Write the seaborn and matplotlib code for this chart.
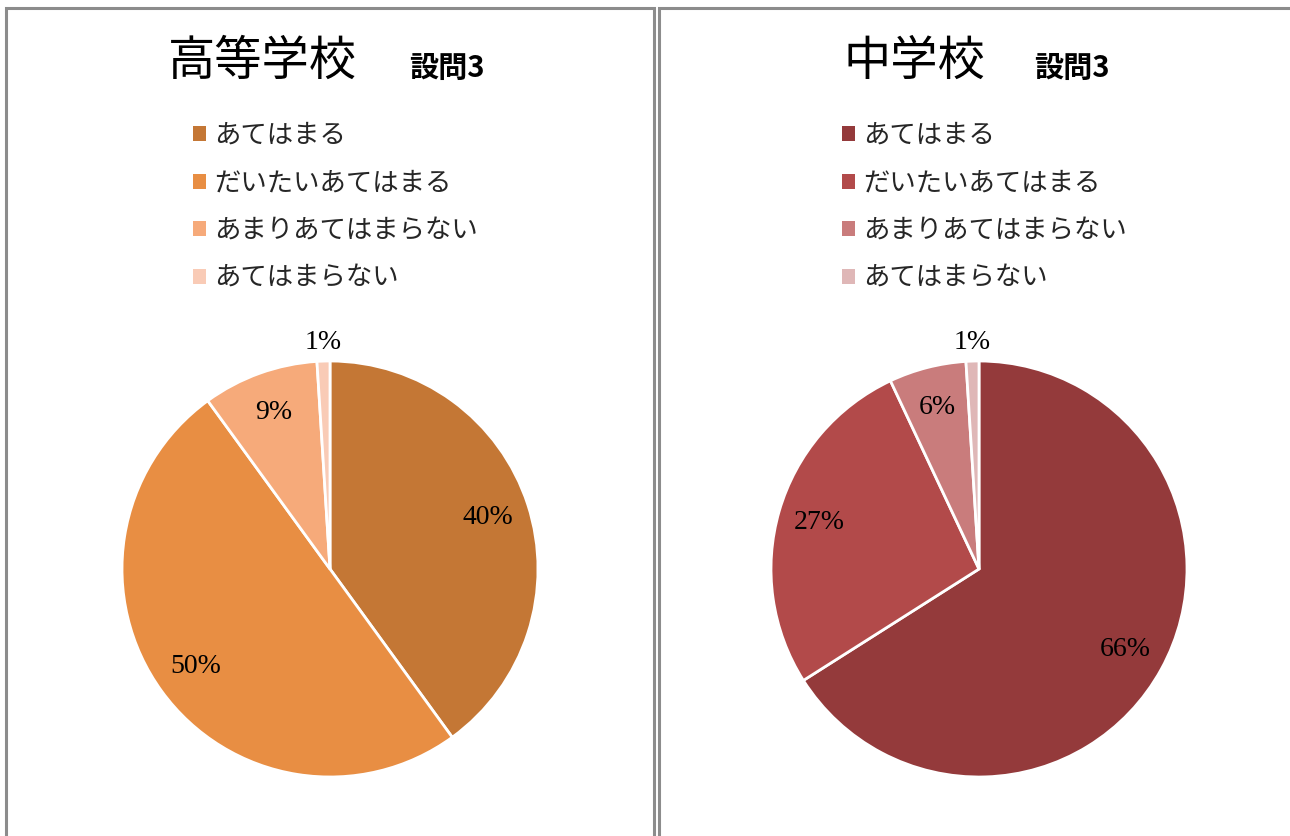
import numpy as np
import matplotlib
matplotlib.use("Agg")
import matplotlib.pyplot as plt
from matplotlib.patches import Rectangle
import seaborn as sns

# --- data
categories = ["あてはまる", "だいたいあてはまる", "あまりあてはまらない", "あてはまらない"]
high_school = [40, 50, 9, 1]
middle_school = [66, 27, 6, 1]
titles = ["高等学校", "中学校"]
subtitle = "設問3"

high_colors = ["#C47735", "#E88E43", "#F6AA7A", "#F9CBB6"]
middle_colors = ["#943A3B", "#B24A4A", "#C97C7C", "#DFB7B7"]

sns.set_theme(style="white")
plt.rcParams['font.family'] = ['Noto Sans CJK JP', 'DejaVu Sans']

W, H = 1290, 836
fig = plt.figure(figsize=(W / 100, H / 100), dpi=100)
fig.patch.set_facecolor("white")

# panel frames (figure pixels -> fraction)
def fx(x):
    return x / W

def fy(y):
    return 1 - y / H

for x0, x1 in [(6, 654), (659, 1300)]:
    fig.patches.append(Rectangle((fx(x0), fy(900)), fx(x1 - x0), (900 - 8) / H,
                                 transform=fig.transFigure, fill=False,
                                 edgecolor="#8c8c8c", linewidth=2.2))

panels = [
    dict(vals=high_school, cols=high_colors, title=titles[0], cx=330, tx=168, sx=409, lx=193),
    dict(vals=middle_school, cols=middle_colors, title=titles[1], cx=979, tx=843, sx=1034, lx=842),
]
R = 208
cy = 569

for p in panels:
    ax = fig.add_axes([fx(p["cx"] - R), fy(cy + R), 2 * R / W, 2 * R / H])
    pal = sns.color_palette(p["cols"])
    wedges, _, autotexts = ax.pie(p["vals"], colors=pal, startangle=90, counterclock=False,
                                  autopct=lambda v: f"{v:.0f}%", pctdistance=0.8,
                                  wedgeprops=dict(edgecolor="white", linewidth=2),
                                  textprops=dict(family="Liberation Serif", fontsize=20, color="black"))
    # small slice label sits outside the pie
    for w, t, v in zip(wedges, autotexts, p["vals"]):
        if v < 3:
            ang = np.deg2rad((w.theta1 + w.theta2) / 2)
            t.set_position((1.09 * np.cos(ang), 1.09 * np.sin(ang)))
    ax.set_xlim(-1, 1)
    ax.set_ylim(-1, 1)
    ax.set_aspect("equal")
    ax.axis("off")

    fig.text(fx(p["tx"]), fy(62), p["title"], fontsize=34, va="center", ha="left", color="black")
    fig.text(fx(p["sx"]), fy(68), subtitle, fontsize=21, fontweight="bold", va="center", ha="left",
             color="black")

    leg = fig.legend(wedges, categories, loc="upper left",
                     bbox_to_anchor=(fx(p["lx"]), fy(122)), frameon=False,
                     fontsize=19, handlelength=0.5, handleheight=0.5, handletextpad=0.3,
                     labelspacing=0.78, borderpad=0, borderaxespad=0)
    for h in leg.legend_handles:
        h.set_edgecolor("none")
    for t in leg.get_texts():
        t.set_color("#262626")

fig.savefig("out.png", dpi=100, facecolor="white")
